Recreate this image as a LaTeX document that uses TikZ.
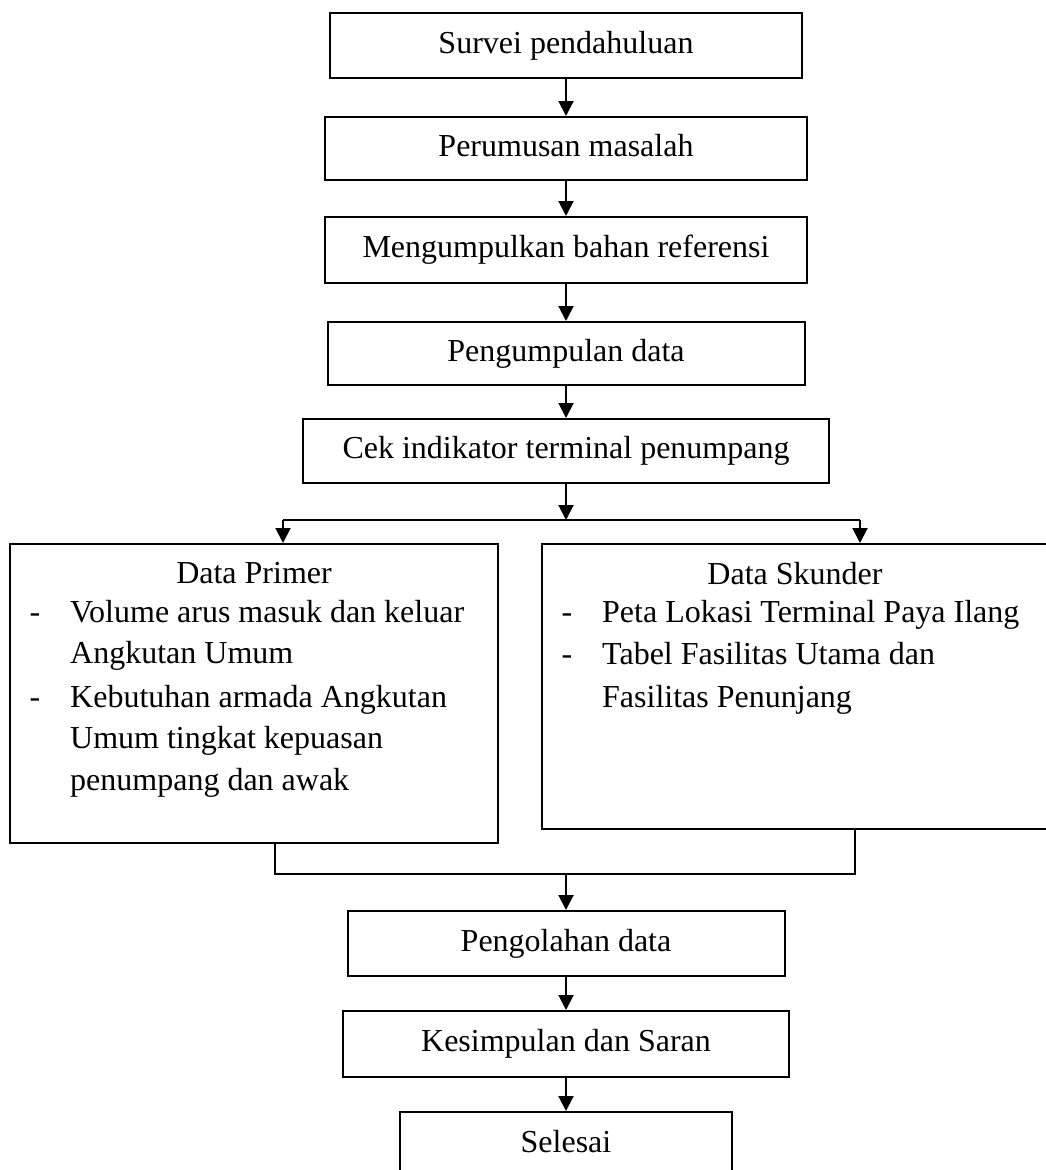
\documentclass[tikz,border=0pt]{standalone}
\usepackage{fontspec}
\setmainfont{Liberation Serif}
\usetikzlibrary{arrows.meta}
\begin{document}
\begin{tikzpicture}[x=1pt,y=-1pt,
  ln/.style={line width=2pt},
  arr/.style={line width=2pt,-{Triangle[length=15pt,width=15pt]}},
  box/.style={draw,line width=2pt,inner sep=0pt,
    font=\fontsize{32}{42}\selectfont,text height=22pt,text depth=7pt},
  txt/.style={inner sep=0pt,font=\fontsize{32}{42}\selectfont}]
\useasboundingbox (0,0) rectangle (1046,1170);
\clip (0,0) rectangle (1046,1170);
\fill[white] (0,0) rectangle (1046,1170);

\node[box,minimum width=472pt,minimum height=65pt] (s1) at (566,45.5) {Survei pendahuluan};
\node[box,minimum width=482pt,minimum height=63pt] (s2) at (566,148.5) {Perumusan masalah};
\node[box,minimum width=482pt,minimum height=66pt] (s3) at (566,250) {Mengumpulkan bahan referensi};
\node[box,minimum width=477pt,minimum height=63pt] (s4) at (566,353.5) {Pengumpulan data};
\node[box,minimum width=526pt,minimum height=64pt] (cek) at (566,451) {Cek indikator terminal penumpang};

\node[box,minimum width=488pt,minimum height=299pt] (prim) at (254,693.5) {};
\node[box,minimum width=506pt,minimum height=285pt] (skun) at (795,686.5) {};

\node[box,minimum width=437pt,minimum height=65pt] (olah) at (566,943.5) {Pengolahan data};
\node[box,minimum width=446pt,minimum height=66pt] (kes) at (566,1044) {Kesimpulan dan Saran};
\node[box,minimum width=332pt,minimum height=66pt] (sel) at (566,1145) {Selesai};

% Data Primer text
\node[txt,anchor=base] (pt) at (254,583) {Data Primer};
\node[txt,anchor=base] (pd1) at (35,622) {-};
\node[txt,anchor=base west] (pa1) at (70,622) {Volume arus masuk dan keluar};
\node[txt,anchor=base west] (pa2) at (70,663) {Angkutan Umum};
\node[txt,anchor=base] (pd2) at (35,707) {-};
\node[txt,anchor=base west] (pb1) at (70,707) {Kebutuhan armada Angkutan};
\node[txt,anchor=base west] (pb2) at (70,748) {Umum tingkat kepuasan};
\node[txt,anchor=base west] (pb3) at (70,790) {penumpang dan awak};

% Data Skunder text
\node[txt,anchor=base] (st) at (795,584) {Data Skunder};
\node[txt,anchor=base] (sd1) at (567,622) {-};
\node[txt,anchor=base west] (sa1) at (602,622) {Peta Lokasi Terminal Paya Ilang};
\node[txt,anchor=base] (sd2) at (567,664) {-};
\node[txt,anchor=base west] (sb1) at (602,664) {Tabel Fasilitas Utama dan};
\node[txt,anchor=base west] (sb2) at (602,707) {Fasilitas Penunjang};

% connectors
\draw[arr] (s1.south) -- (s1.south |- s2.north);
\draw[arr] (s2.south) -- (s2.south |- s3.north);
\draw[arr] (s3.south) -- (s3.south |- s4.north);
\draw[arr] (s4.south) -- (s4.south |- cek.north);

\coordinate (bl) at (283,520);
\coordinate (brr) at (860,520);
\draw[arr] (cek.south) -- (cek.south |- bl);
\draw[ln] (bl) -- (brr);
\draw[arr] (bl) -- (bl |- prim.north);
\draw[arr] (brr) -- (brr |- skun.north);

\coordinate (ml) at (275,874);
\coordinate (mr) at (855,874);
\draw[ln] (ml |- prim.south) -- (ml) -- (mr) -- (mr |- skun.south);
\draw[arr] (olah.north |- ml) -- (olah.north);
\draw[arr] (olah.south) -- (olah.south |- kes.north);
\draw[arr] (kes.south) -- (kes.south |- sel.north);
\end{tikzpicture}
\end{document}
